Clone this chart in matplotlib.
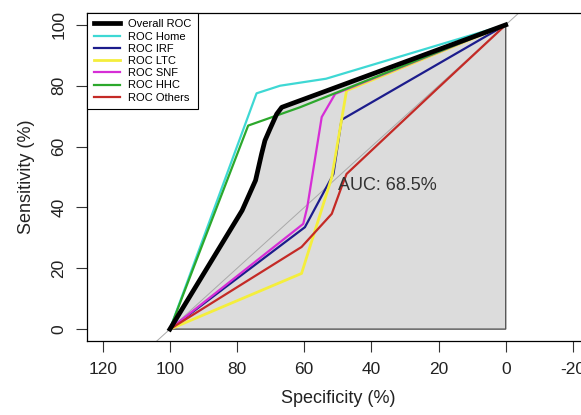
import numpy as np
import matplotlib.pyplot as plt

plt.rcParams['font.family'] = ['Liberation Sans', 'DejaVu Sans']
plt.rcParams['axes.unicode_minus'] = False

# ROC curves, (specificity %, sensitivity %)
overall_spec = [100, 78.5, 74.5, 72.7, 71.7, 70.2, 68.2, 66.7, 0]
overall_sens = [0, 39.0, 48.9, 57.6, 62.0, 65.8, 70.7, 72.9, 100]

home_spec = [100, 74.2, 67.2, 53.5, 0]
home_sens = [0, 77.5, 80.0, 82.3, 100]

irf_spec = [100, 59.8, 52.3, 51.3, 48.9, 0]
irf_sens = [0, 33.5, 48.9, 51.0, 68.8, 100]

ltc_spec = [100, 60.8, 51.8, 47.4, 0]
ltc_sens = [0, 18.3, 49.9, 78.4, 100]

snf_spec = [100, 60.3, 59.1, 54.8, 50.8, 0]
snf_sens = [0, 34.6, 40.1, 69.7, 77.3, 100]

hhc_spec = [100, 76.7, 61.3, 0]
hhc_sens = [0, 66.9, 72.9, 100]

oth_spec = [100, 60.8, 51.8, 48.9, 47.4, 20.6, 0]
oth_sens = [0, 27.0, 37.9, 46.7, 51.0, 78.8, 100]

auc_text = "AUC: 68.5%"

fig = plt.figure(figsize=(5.81, 4.15), dpi=100)
ax = fig.add_axes([0.1503, 0.1776, 0.8623, 0.7918])

# AUC polygon under the overall curve
poly_x = overall_spec + [0]
poly_y = overall_sens + [0]
ax.fill(poly_x, poly_y, facecolor='#DCDCDC', edgecolor='#555555', lw=1.0, zorder=1)

# chance diagonal
ax.plot([130, -30], [-30, 130], color='#A9A9A9', lw=0.7, zorder=2)

ax.plot(home_spec, home_sens, color='#3ED8D4', lw=1.6, label='ROC Home', zorder=3)
ax.plot(irf_spec, irf_sens, color='#1C1C8C', lw=1.6, label='ROC IRF', zorder=3)
ax.plot(ltc_spec, ltc_sens, color='#F4EE3C', lw=2.0, label='ROC LTC', zorder=3)
ax.plot(snf_spec, snf_sens, color='#D62ED6', lw=1.6, label='ROC SNF', zorder=3)
ax.plot(hhc_spec, hhc_sens, color='#2CA82C', lw=1.6, label='ROC HHC', zorder=3)
ax.plot(oth_spec, oth_sens, color='#C42A26', lw=1.6, label='ROC Others', zorder=3)
ax.plot(overall_spec, overall_sens, color='black', lw=3.4, label='Overall ROC', zorder=4)

ax.text(50, 50, auc_text, ha='left', va='top', fontsize=13, color='#333333', zorder=5)

ax.set_xlim(124.6, -24.6)
ax.set_ylim(-4, 104)
ax.set_xticks([120, 100, 80, 60, 40, 20, 0, -20])
ax.set_yticks([0, 20, 40, 60, 80, 100])
ax.tick_params(axis='both', labelsize=12.5, length=8, width=0.8, color='#333333',
               labelcolor='#222222', pad=7)
for lab in ax.get_yticklabels():
    lab.set_rotation(90)
    lab.set_va('center')
ax.set_xlabel('Specificity (%)', fontsize=13, color='#222222', labelpad=9)
ax.set_ylabel('Sensitivity (%)', fontsize=13, color='#222222', labelpad=12)
for s in ax.spines.values():
    s.set_linewidth(0.9)

handles, labels = ax.get_legend_handles_labels()
order = [6, 0, 1, 2, 3, 4, 5]
leg = ax.legend([handles[i] for i in order], [labels[i] for i in order],
                loc='upper left', borderaxespad=0, fontsize=8, fancybox=False,
                framealpha=1, edgecolor='black', labelspacing=0.2,
                handlelength=2.3, handletextpad=0.8, borderpad=0.6)
leg.get_frame().set_linewidth(0.8)

fig.savefig('out.png', dpi=100)
